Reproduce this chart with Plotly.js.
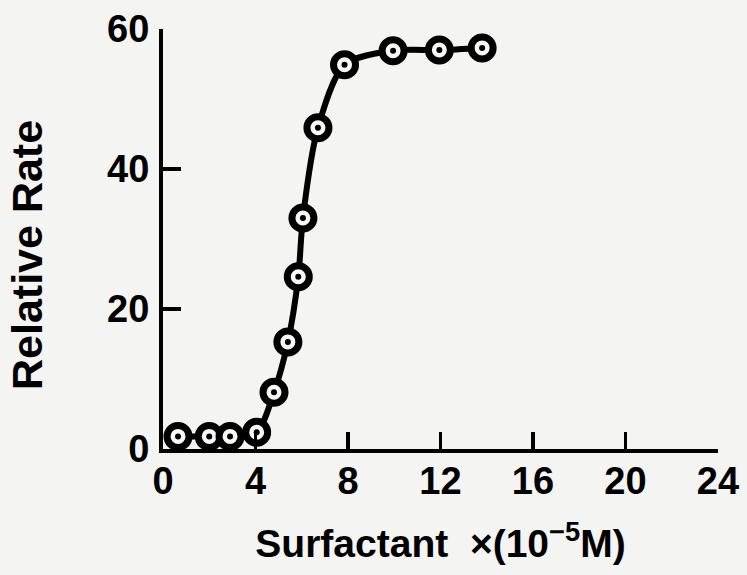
<!DOCTYPE html>
<html>
<head>
<meta charset="utf-8">
<script src="https://cdn.plot.ly/plotly-3.0.1.min.js"></script>
<style>html,body{margin:0;padding:0;background:#f4f4f2;}#chart{width:747px;height:575px;}</style>
</head>
<body>
<div id="chart"></div>
<script>
// Data
var surfactant = [0.65, 2.0, 2.9, 4.05, 4.8, 5.4, 5.85, 6.05, 6.7, 7.85, 9.95, 11.95, 13.8];
var relativeRate = [1.8, 1.8, 1.8, 2.4, 8.1, 15.3, 24.6, 33.0, 45.9, 54.9, 56.9, 57.0, 57.3];
var xTicks = [0, 4, 8, 12, 16, 20, 24];
var yTicks = [0, 20, 40, 60];
var xTitle = 'Surfactant  ×(10<sup>−5</sup>M)';
var yTitle = 'Relative Rate';

var fontFam = 'Liberation Sans, Arial, sans-serif';

var traces = [
  {
    x: surfactant, y: relativeRate, type: 'scatter', mode: 'lines+markers',
    line: {color: '#000', width: 6, shape: 'spline', smoothing: 0.8},
    marker: {symbol: 'circle', size: 22, color: '#f8f8f6', line: {color: '#000', width: 7}},
    cliponaxis: false, hoverinfo: 'skip', showlegend: false
  },
  {
    x: surfactant, y: relativeRate, type: 'scatter', mode: 'markers',
    marker: {symbol: 'circle', size: 6, color: '#000'},
    cliponaxis: false, hoverinfo: 'skip', showlegend: false
  }
];

var layout = {
  width: 747, height: 575,
  paper_bgcolor: '#f4f4f2', plot_bgcolor: '#f4f4f2',
  margin: {l: 163, r: 29, t: 29, b: 126},
  font: {family: fontFam, color: '#000', weight: 'bold'},
  xaxis: {
    range: [0, 24], tickvals: xTicks, ticktext: xTicks.map(String),
    showgrid: false, zeroline: false, showline: true, linecolor: '#000', linewidth: 4,
    ticks: 'inside', ticklen: 17, tickwidth: 3.5, tickcolor: '#000',
    tickfont: {family: fontFam, size: 38, color: '#000', weight: 'bold'},
    ticklabelstandoff: -5,
    title: {text: xTitle, font: {family: fontFam, size: 39, color: '#000', weight: 'bold'}, standoff: 30}
  },
  yaxis: {
    range: [0, 60], tickvals: yTicks, ticktext: yTicks.map(String),
    showgrid: false, zeroline: false, showline: true, linecolor: '#000', linewidth: 4,
    ticks: 'inside', ticklen: 18, tickwidth: 3.5, tickcolor: '#000',
    tickfont: {family: fontFam, size: 38, color: '#000', weight: 'bold'},
    ticklabelstandoff: 2
  },
  annotations: [{
    text: yTitle, xref: 'paper', yref: 'paper', x: -0.245, y: 0.462,
    xanchor: 'center', yanchor: 'middle', textangle: -90, showarrow: false,
    font: {family: fontFam, size: 43, color: '#000', weight: 'bold'}
  }]
};

Plotly.newPlot('chart', traces, layout, {displayModeBar: false, staticPlot: true});
</script>
</body>
</html>
